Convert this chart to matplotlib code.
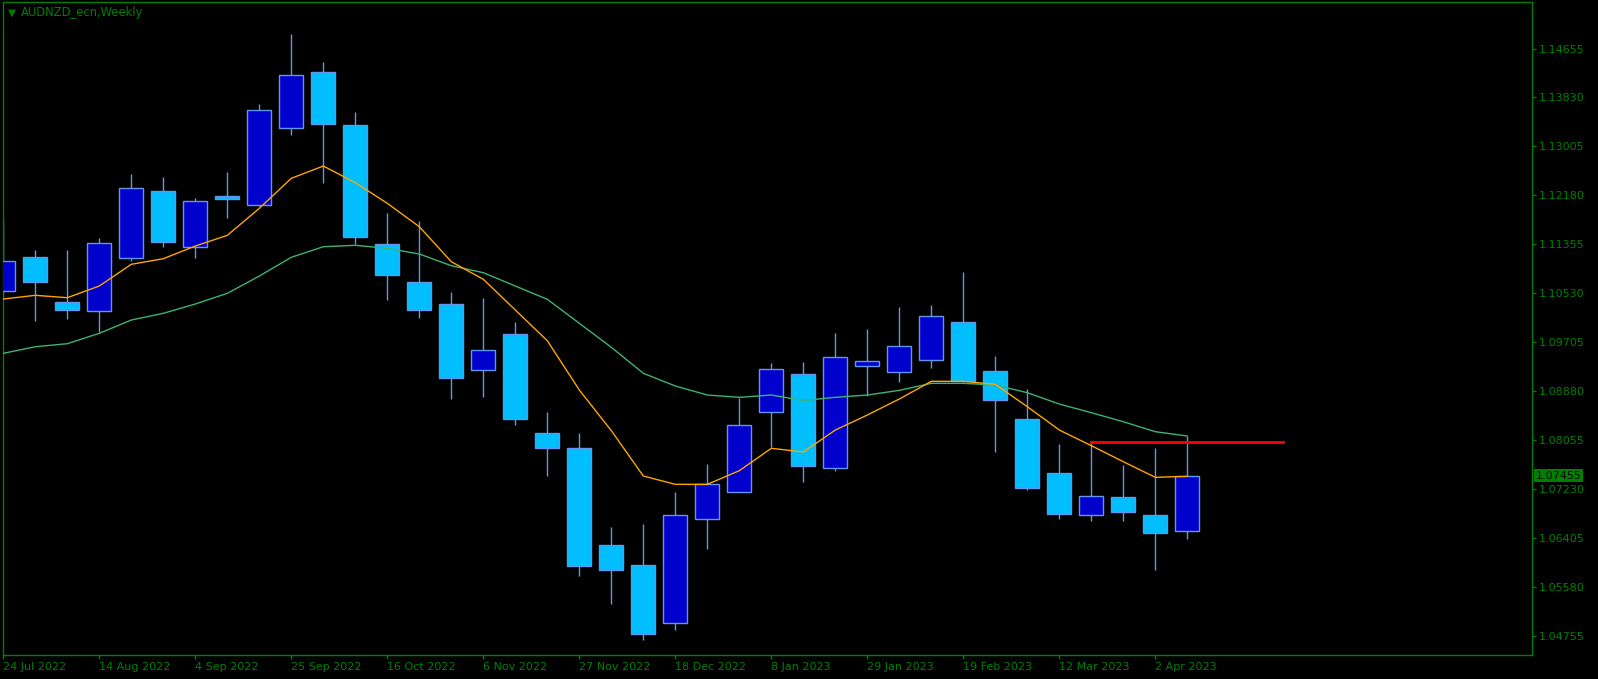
import matplotlib
matplotlib.use("Agg")
import matplotlib.pyplot as plt
from matplotlib.transforms import blended_transform_factory

# weekly AUDNZD candles, 24 Jul 2022 .. 9 Apr 2023
opens = [1.10564, 1.11142, 1.10383, 1.10227, 1.11120, 1.12254, 1.11315, 1.12164, 1.12013, 1.13310,
         1.14259, 1.13366, 1.11356, 1.10715, 1.10350, 1.09232, 1.09844, 1.08171, 1.07918, 1.06283,
         1.05946, 1.04969, 1.06722, 1.07177, 1.08525, 1.09165, 1.07581, 1.09300, 1.09199, 1.09401,
         1.10041, 1.09221, 1.08407, 1.07502, 1.06789, 1.07092, 1.06789, 1.06519]
highs = [1.11782, 1.11260, 1.11260, 1.11462, 1.12540, 1.12490, 1.12131, 1.12574, 1.13720, 1.14899,
         1.14428, 1.13585, 1.11883, 1.11748, 1.10552, 1.10451, 1.10046, 1.08530, 1.08176, 1.06592,
         1.06642, 1.07182, 1.07653, 1.08771, 1.09355, 1.09372, 1.09861, 1.09928, 1.10299, 1.10333,
         1.10889, 1.09473, 1.08917, 1.07990, 1.08024, 1.07636, 1.07923, 1.08125]
lows = [1.10473, 1.10068, 1.10102, 1.09878, 1.11079, 1.11315, 1.11130, 1.11804, 1.12001, 1.13202,
        1.12394, 1.11366, 1.10422, 1.10119, 1.08754, 1.08787, 1.08316, 1.07456, 1.05771, 1.05299,
        1.04693, 1.04861, 1.06226, 1.07177, 1.07940, 1.07355, 1.07541, 1.08804, 1.09040, 1.09276,
        1.09035, 1.07861, 1.07220, 1.06732, 1.06698, 1.06698, 1.05872, 1.06394]
closes = [1.11069, 1.10725, 1.10253, 1.11372, 1.12299, 1.11399, 1.12080, 1.12124, 1.13614, 1.14203,
          1.13388, 1.11484, 1.10833, 1.10253, 1.09098, 1.09569, 1.08417, 1.07918, 1.05930, 1.05862,
          1.04784, 1.06789, 1.07311, 1.08306, 1.09249, 1.07625, 1.09451, 1.09384, 1.09637, 1.10142,
          1.09057, 1.08727, 1.07244, 1.06806, 1.07109, 1.06840, 1.06486, 1.07455]

# moving averages as drawn on the chart
ma_fast = [1.10434, 1.10496, 1.10456, 1.10653, 1.11019, 1.11113, 1.11327, 1.11507, 1.11962, 1.12468,
           1.12675, 1.12394, 1.12046, 1.11652, 1.11062, 1.10766, 1.10248, 1.09731, 1.08900, 1.08215,
           1.07451, 1.07311, 1.07311, 1.07541, 1.07918, 1.07856, 1.08226, 1.08479, 1.08749, 1.09047,
           1.09047, 1.08996, 1.08619, 1.08226, 1.07962, 1.07692, 1.07429, 1.07446]
ma_slow = [1.09519, 1.09630, 1.09681, 1.09856, 1.10080, 1.10193, 1.10350, 1.10530, 1.10821, 1.11137,
           1.11315, 1.11339, 1.11288, 1.11192, 1.10995, 1.10877, 1.10653, 1.10429, 1.10024, 1.09620,
           1.09182, 1.08968, 1.08816, 1.08777, 1.08816, 1.08723, 1.08777, 1.08816, 1.08895, 1.09013,
           1.09013, 1.08985, 1.08855, 1.08664, 1.08518, 1.08366, 1.08198, 1.08125]

date_labels = ["24 Jul 2022", "14 Aug 2022", "4 Sep 2022", "25 Sep 2022", "16 Oct 2022",
               "6 Nov 2022", "27 Nov 2022", "18 Dec 2022", "8 Jan 2023", "29 Jan 2023",
               "19 Feb 2023", "12 Mar 2023", "2 Apr 2023"]
price_ticks = [1.04755, 1.05580, 1.06405, 1.07230, 1.08055, 1.08880, 1.09705,
               1.10530, 1.11355, 1.12180, 1.13005, 1.13830, 1.14655]

level_price = 1.08024
level_from, level_to = 34, 40
last_price = 1.07455

fg = "#008000"
bull_fill = "#0000CD"
bear_fill = "#00BFFF"
edge = "#6495ED"

fig = plt.figure(figsize=(15.98, 6.79), dpi=100, facecolor="black")
ax = fig.add_axes([3 / 1598, 24 / 679, 1529 / 1598, 653 / 679])
ax.set_facecolor("black")

x = list(range(len(opens)))
ax.vlines(x, lows, highs, color=edge, linewidth=1, zorder=2)
for i in x:
    lo, hi = sorted((opens[i], closes[i]))
    fill = bull_fill if closes[i] > opens[i] else bear_fill
    ax.bar(i, max(hi - lo, 0.00005), bottom=lo, width=0.75, color=fill,
           edgecolor=edge, linewidth=1, zorder=3)

ax.plot(x, ma_slow, color="#3CB371", linewidth=1, zorder=4)
ax.plot(x, ma_fast, color="#FFA500", linewidth=1, zorder=5)
ax.plot([level_from, level_to], [level_price, level_price], color="red", linewidth=2, zorder=6)

ax.set_xlim(-0.01, 47.77)
ax.set_ylim(1.04435, 1.15439)

for s in ax.spines.values():
    s.set_color(fg)
    s.set_linewidth(1)

ax.yaxis.tick_right()
ax.set_yticks(price_ticks)
ax.set_yticklabels([f"{v:.5f}" for v in price_ticks])
ax.set_xticks(x[::3])
ax.set_xticklabels(date_labels, ha="left")
ax.tick_params(colors=fg, labelcolor=fg, labelsize=8, length=3, width=1, pad=2)

# current price tag
tr = blended_transform_factory(ax.transAxes, ax.transData)
ax.text(1.0025, last_price, f"{last_price:.5f}", transform=tr, color="black", fontsize=8,
        va="center", ha="left", clip_on=False, zorder=10,
        bbox=dict(boxstyle="square,pad=0.15", fc=fg, ec="none"))

fig.text(21 / 1598, 1 - 12.5 / 679, "AUDNZD_ecn,Weekly", color=fg, fontsize=8.3, va="center")
fig.text(11.5 / 1598, 1 - 12.5 / 679, "\u25BC", color=fg, fontsize=7.5, va="center", ha="center")

fig.savefig("out.png", dpi=100, facecolor="black")
